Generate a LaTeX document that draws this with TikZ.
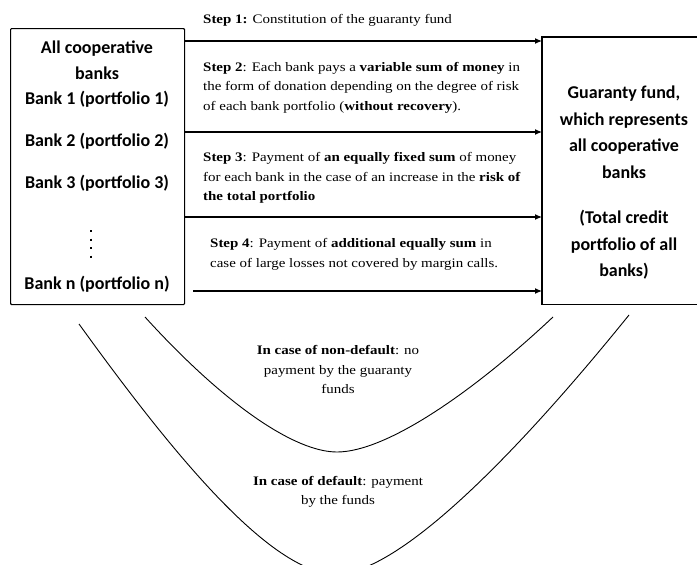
\documentclass[tikz,border=0pt]{standalone}
\usepackage{fontspec}
\setmainfont[FakeStretch=1.15]{Liberation Serif}
\newfontfamily\calfont{Carlito}
\usetikzlibrary{arrows.meta}
\begin{document}
\begin{tikzpicture}[x=1pt,y=-1pt,
  box/.style={draw, line width=1.1pt, rounded corners=1pt},
  sanstext/.style={font=\calfont\bfseries\fontsize{18}{26.5}\selectfont, align=center, inner sep=0pt},
  steptext/.style={font=\fontsize{13}{19.5}\selectfont, align=left, anchor=west, inner sep=0pt},
  casetext/.style={font=\fontsize{13}{19.5}\selectfont, align=center, inner sep=0pt},
  flow/.style={line width=1.1pt, -{Latex[length=7pt,width=6pt]}},
  curve/.style={line width=0.9pt}]
\useasboundingbox (0,0) rectangle (697,565);

% boxes
\node[box, minimum width=174pt, minimum height=276pt, anchor=north west, inner sep=0pt] (banks) at (10,28) {};
\node[minimum width=155pt, minimum height=267pt, anchor=north west, inner sep=0pt] (fund) at (542,37) {};
\draw[line width=1.1pt] (fund.north east) -- (fund.north west) -- (fund.south west) -- (fund.south east);

% left box text
\node[sanstext] (allb) at (97,60) {All cooperative\\banks};
\node[sanstext] (b1) at (97,99) {Bank 1 (portfolio 1)};
\node[sanstext] (b2) at (97,141) {Bank 2 (portfolio 2)};
\node[sanstext] (b3) at (97,183) {Bank 3 (portfolio 3)};
\coordinate (dtop) at (91,230);
\coordinate (dbot) at (91,262);
\draw[line width=1.8pt, dash pattern=on 2pt off 6.5pt] (dtop) -- (dbot);
\node[sanstext] (bn) at (97,284) {Bank n (portfolio n)};

% right box text
\node[sanstext] (gf) at (624,132) {Guaranty fund,\\which represents\\all cooperative\\banks};
\node[sanstext] (tc) at (624,245) {(Total credit\\portfolio of all\\banks)};

% arrows
\coordinate (y1) at (0,41);
\coordinate (y2) at (0,132);
\coordinate (y3) at (0,217);
\coordinate (y4) at (0,291);
\draw[flow] (banks.east |- y1) -- (fund.west |- y1);
\draw[flow] (banks.east |- y2) -- (fund.west |- y2);
\draw[flow] (banks.east |- y3) -- (fund.west |- y3);
\draw[flow] ([xshift=8pt]banks.east |- y4) -- (fund.west |- y4);

% step texts
\node[steptext] (s1) at (203,20) {\textbf{Step 1:} Constitution of the guaranty fund};
\node[steptext] (s2) at (203,87.5) {\textbf{Step 2}: Each bank pays a \textbf{variable sum of money} in\\the form of donation depending on the degree of risk\\of each bank portfolio (\textbf{without recovery}).};
\node[steptext] (s3) at (203,178) {\textbf{Step 3}: Payment of \textbf{an equally fixed sum} of money\\for each bank in the case of an increase in the \textbf{risk of}\\\textbf{the total portfolio}};
\node[steptext] (s4) at (210,254.5) {\textbf{Step 4}: Payment of \textbf{additional equally sum} in\\case of large losses not covered by margin calls.};

% curves
\coordinate (iL) at (145,317);
\coordinate (iB) at (337,452);
\coordinate (iR) at (553,317);
\draw[curve] (iL) .. controls (225,405) and (295,452) .. (iB) .. controls (385,452) and (470,395) .. (iR);
\coordinate (oL) at (79,324);
\coordinate (oB) at (336,574);
\coordinate (oR) at (629,315);
\draw[curve] (oL) .. controls (170,450) and (270,574) .. (oB) .. controls (400,574) and (520,450) .. (oR);

\node[casetext] (nd) at (338,369.5) {\textbf{In case of non-default}: no\\payment by the guaranty\\funds};
\node[casetext] (df) at (338,492) {\textbf{In case of default}: payment\\by the funds};
\end{tikzpicture}
\end{document}
